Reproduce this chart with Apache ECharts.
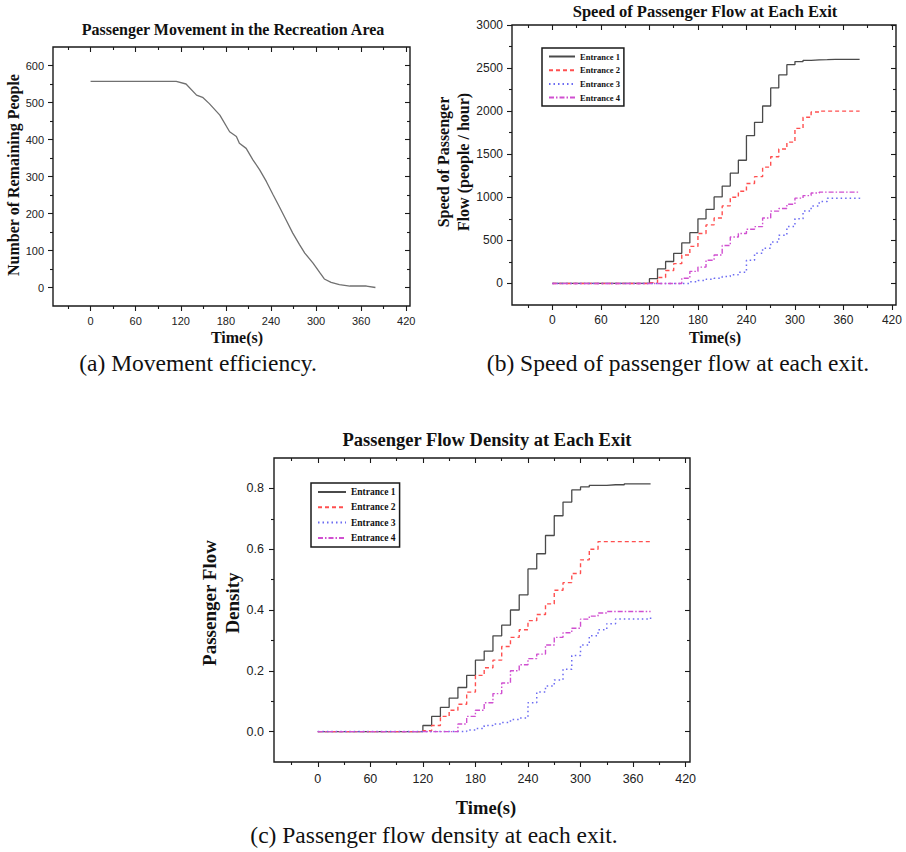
<!DOCTYPE html>
<html>
<head>
<meta charset="utf-8">
<script src="https://cdn.jsdelivr.net/npm/echarts@6/dist/echarts.min.js"></script>
<style>
  html, body { margin: 0; padding: 0; background: #fff; }
  #c { width: 906px; height: 852px; }
</style>
</head>
<body>
<div id="c"></div>
<script>
// Time axis (seconds)
const TIME_LABELS = [0, 60, 120, 180, 240, 300, 360, 420];
const TIME_MINOR = [-30, 30, 90, 150, 210, 270, 330, 390];

// (a) people still inside the recreation area
const remainT = [0, 114, 127, 141, 149, 158, 172, 185, 194, 198, 207, 216, 225, 234, 243, 251, 260, 269, 278, 285, 296, 305, 311, 320, 331, 345, 367, 379];
const remainV = [557, 557, 550, 520, 514, 497, 466, 421, 408, 390, 376, 345, 318, 286, 250, 219, 183, 147, 116, 93, 66, 40, 23, 14, 8, 4, 4, 0];
const PEOPLE_LABELS = [0, 100, 200, 300, 400, 500, 600];
const PEOPLE_MINOR = [50, 150, 250, 350, 450, 550];

// exit counters, sampled every 10 s once the flow starts
const stepT = [0, 110, 120, 130, 140, 150, 160, 170, 180, 190, 200, 210, 220, 230, 240, 250, 260, 270, 280, 290, 300, 310, 320, 330, 340, 350, 360, 370, 380];

// (b) flow speed, people / hour
const speedE1 = [0, 0, 55, 170, 255, 350, 470, 590, 750, 860, 1005, 1130, 1280, 1430, 1715, 1870, 2060, 2270, 2420, 2540, 2575, 2590, 2595, 2597, 2600, 2600, 2600, 2600, 2600];
const speedE2 = [0, 0, 10, 70, 150, 230, 330, 430, 580, 680, 760, 900, 1000, 1070, 1160, 1240, 1350, 1470, 1560, 1640, 1800, 1930, 1990, 2000, 2000, 2000, 2000, 2000, 2000];
const speedE3 = [0, 0, 0, 0, 0, 0, 0, 20, 35, 50, 60, 80, 100, 130, 270, 350, 410, 480, 560, 660, 750, 840, 900, 950, 990, 990, 990, 990, 1000];
const speedE4 = [0, 0, 0, 0, 0, 0, 60, 140, 190, 270, 330, 440, 540, 580, 630, 660, 760, 840, 870, 920, 990, 1020, 1050, 1060, 1060, 1060, 1060, 1060, 1060];
const SPEED_LABELS = [0, 500, 1000, 1500, 2000, 2500, 3000];
const SPEED_MINOR = [250, 750, 1250, 1750, 2250, 2750];

// (c) flow density
const densE1 = [0, 0, 0.02, 0.05, 0.08, 0.11, 0.145, 0.185, 0.235, 0.265, 0.315, 0.35, 0.40, 0.45, 0.535, 0.585, 0.645, 0.71, 0.755, 0.795, 0.805, 0.81, 0.81, 0.812, 0.812, 0.815, 0.815, 0.815, 0.815];
const densE2 = [0, 0, 0.003, 0.02, 0.05, 0.07, 0.09, 0.13, 0.185, 0.21, 0.235, 0.28, 0.31, 0.335, 0.365, 0.385, 0.42, 0.465, 0.49, 0.52, 0.565, 0.60, 0.625, 0.625, 0.625, 0.625, 0.625, 0.625, 0.625];
const densE3 = [0, 0, 0, 0, 0, 0, 0, 0.005, 0.01, 0.02, 0.025, 0.03, 0.04, 0.045, 0.095, 0.13, 0.15, 0.17, 0.205, 0.25, 0.285, 0.315, 0.335, 0.355, 0.37, 0.37, 0.37, 0.37, 0.375];
const densE4 = [0, 0, 0, 0, 0, 0, 0.025, 0.05, 0.07, 0.095, 0.125, 0.16, 0.20, 0.22, 0.24, 0.255, 0.285, 0.31, 0.325, 0.34, 0.37, 0.38, 0.39, 0.395, 0.395, 0.395, 0.395, 0.395, 0.395];
const DENS_LABELS = [0, 0.2, 0.4, 0.6, 0.8];
const DENS_MINOR = [0.1, 0.3, 0.5, 0.7];

const ENTRANCES = ['Entrance 1', 'Entrance 2', 'Entrance 3', 'Entrance 4'];

const SERIF = '"Liberation Serif", "Times New Roman", serif';
const SANS = '"Liberation Sans", Arial, sans-serif';
const INK = '#1a1a1a';

const grids = [], xAxes = [], yAxes = [];

// One framed panel: main axes carry labels and outward ticks,
// the mirrored axes carry inward ticks only.
function addAxisSet(list, gi, outer, mirror, a) {
  const base = {
    type: 'value', gridIndex: gi, min: a.min, max: a.max, silent: true,
    axisLine: { show: false, onZero: false }, splitLine: { show: false }
  };
  const tick = (vals, len, inside) => ({
    show: true, customValues: vals, length: len, inside: inside,
    lineStyle: { color: INK, width: 1.1 }
  });
  const idx = list.length;
  list.push(Object.assign({}, base, {
    position: outer,
    axisTick: tick(a.major, 5, false),
    axisLabel: {
      show: true, customValues: a.major, margin: a.margin, color: '#222',
      fontFamily: SANS, fontSize: a.fontSize, formatter: a.formatter
    }
  }));
  list.push(Object.assign({}, base, { position: outer, axisTick: tick(a.minor, 3, false), axisLabel: { show: false } }));
  list.push(Object.assign({}, base, { position: mirror, axisTick: tick(a.major, 5, true), axisLabel: { show: false } }));
  list.push(Object.assign({}, base, { position: mirror, axisTick: tick(a.minor, 3, true), axisLabel: { show: false } }));
  return idx;
}

function panel(rect, xa, ya) {
  const gi = grids.length;
  grids.push({
    left: rect[0], top: rect[1], width: rect[2], height: rect[3],
    show: true, borderColor: INK, borderWidth: 1.4, backgroundColor: 'transparent',
    containLabel: false, outerBoundsMode: 'none'
  });
  return {
    xi: addAxisSet(xAxes, gi, 'bottom', 'top', xa),
    yi: addAxisSet(yAxes, gi, 'left', 'right', ya)
  };
}

const timeAxis = (fontSize, margin) => ({
  min: -50, max: 425, major: TIME_LABELS, minor: TIME_MINOR,
  fontSize: fontSize, margin: margin, formatter: v => String(v)
});

const PA = panel([53, 47, 357, 259], timeAxis(11, 9), {
  min: -50, max: 650, major: PEOPLE_LABELS, minor: PEOPLE_MINOR,
  fontSize: 11, margin: 9, formatter: v => String(v)
});
const PB = panel([512, 25, 384, 280], timeAxis(12, 9), {
  min: -250, max: 3000, major: SPEED_LABELS, minor: SPEED_MINOR,
  fontSize: 12, margin: 9, formatter: v => String(v)
});
const PC = panel([274, 458, 416, 304], timeAxis(12.5, 10), {
  min: -0.1, max: 0.9, major: DENS_LABELS, minor: DENS_MINOR,
  fontSize: 12.5, margin: 10, formatter: v => v.toFixed(1)
});

const zip = (xs, ys) => xs.map((x, i) => [x, ys[i]]);

const LINE_STYLES = [
  { color: '#4a4a4a', width: 1.3, type: 'solid' },
  { color: '#ff4f4f', width: 1.4, type: [4, 3] },
  { color: '#6b6bf2', width: 1.5, type: [1.5, 3] },
  { color: '#d04fd0', width: 1.4, type: [5, 2, 1.5, 2] }
];

function stepSeries(p, name, values, style) {
  return {
    type: 'line', name: name, xAxisIndex: p.xi, yAxisIndex: p.yi,
    data: zip(stepT, values), step: 'end', symbol: 'none', showSymbol: false,
    lineStyle: style, itemStyle: { color: style.color }, silent: true
  };
}

const series = [
  {
    type: 'line', name: 'Remaining', xAxisIndex: PA.xi, yAxisIndex: PA.yi,
    data: zip(remainT, remainV), symbol: 'none', showSymbol: false,
    lineStyle: { color: '#707070', width: 1.3 }, silent: true
  },
  stepSeries(PB, ENTRANCES[0], speedE1, LINE_STYLES[0]),
  stepSeries(PB, ENTRANCES[1], speedE2, LINE_STYLES[1]),
  stepSeries(PB, ENTRANCES[2], speedE3, LINE_STYLES[2]),
  stepSeries(PB, ENTRANCES[3], speedE4, LINE_STYLES[3]),
  stepSeries(PC, ENTRANCES[0], densE1, LINE_STYLES[0]),
  stepSeries(PC, ENTRANCES[1], densE2, LINE_STYLES[1]),
  stepSeries(PC, ENTRANCES[2], densE3, LINE_STYLES[2]),
  stepSeries(PC, ENTRANCES[3], densE4, LINE_STYLES[3])
];

function legendBox(left, top, itemWidth, gap, fontSize) {
  return {
    data: ENTRANCES, left: left, top: top, orient: 'vertical',
    itemWidth: itemWidth, itemHeight: 8, itemGap: gap,
    padding: [4, 4, 4, 6], borderColor: INK, borderWidth: 1.5, borderRadius: 0,
    backgroundColor: '#fff', selectedMode: false,
    // line sample only, no marker dot
    itemStyle: { opacity: 0, borderWidth: 0 },
    textStyle: { fontFamily: SERIF, fontWeight: 'bold', fontSize: fontSize, color: '#111' }
  };
}

function label(text, x, y, size, weight, rotation, lineHeight) {
  return {
    type: 'text', x: x, y: y, rotation: rotation || 0, silent: true,
    style: {
      text: text, fill: '#111',
      font: weight + ' ' + size + 'px ' + SERIF,
      fontFamily: SERIF, fontSize: size, fontWeight: weight,
      lineHeight: lineHeight || size * 1.2,
      align: 'center', verticalAlign: 'middle',
      textAlign: 'center', textVerticalAlign: 'middle'
    }
  };
}

const graphic = [
  // panel titles
  label('Passenger Movement in the Recreation Area', 233, 29, 16, 'bold'),
  label('Speed of Passenger Flow at Each Exit', 705, 11, 16.5, 'bold'),
  label('Passenger Flow Density at Each Exit', 487, 440, 18.5, 'bold'),
  // axis titles
  label('Number of Remaining People', 13, 175, 16, 'bold', Math.PI / 2),
  label('Time(s)', 237, 337, 16, 'bold'),
  label('Speed of Passenger\nFlow (people / hour)', 453, 162, 16, 'bold', Math.PI / 2, 20),
  label('Time(s)', 715, 337, 16, 'bold'),
  label('Passenger Flow\nDensity', 221, 603, 19, 'bold', Math.PI / 2, 23),
  label('Time(s)', 486, 808, 18.5, 'bold'),
  // captions
  label('(a) Movement efficiency.', 198, 363, 23.5, 'normal'),
  label('(b) Speed of passenger flow at each exit.', 678, 363, 23.5, 'normal'),
  label('(c) Passenger flow density at each exit.', 434, 835, 23.5, 'normal')
];

const chart = echarts.init(document.getElementById('c'), null, { renderer: 'svg' });
chart.setOption({
  animation: false,
  backgroundColor: '#fff',
  grid: grids,
  xAxis: xAxes,
  yAxis: yAxes,
  legend: [legendBox(542, 48, 26, 4.7, 8.5), legendBox(311, 483, 28, 5.3, 9.5)],
  series: series,
  graphic: graphic
});
</script>
</body>
</html>
